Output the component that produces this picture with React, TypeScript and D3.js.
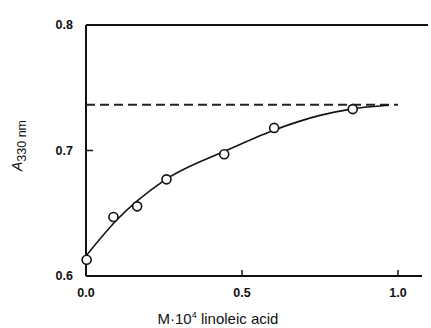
import React from 'react';
import * as d3 from 'd3';

// measured points
const concX = [0.002, 0.088, 0.164, 0.258, 0.443, 0.603, 0.855];
const absY = [0.613, 0.647, 0.6555, 0.677, 0.697, 0.718, 0.733];

// fitted curve drawn through the data
const curveX = [0.0, 0.1, 0.25, 0.45, 0.6, 0.75, 0.85, 0.97];
const curveY = [0.616, 0.645, 0.676, 0.700, 0.716, 0.728, 0.733, 0.736];

// plateau (dashed)
const plateauY = 0.7365;
const plateauX = [0.0, 1.0];

const xTicks = [0.0, 0.5, 1.0];
const yTicks = [0.6, 0.7, 0.8];

export default function App() {
  const width = 431;
  const height = 328;
  const margin = { top: 25, right: 3, bottom: 52, left: 86 };

  const x = d3.scaleLinear().domain([0, 1]).range([margin.left, margin.left + 312]);
  const y = d3.scaleLinear().domain([0.6, 0.8]).range([height - margin.bottom, margin.top]);

  const xEnd = width - margin.right;
  const fitLine = d3
    .line<number>()
    .x((_, i) => x(curveX[i]))
    .y(d => y(d))
    .curve(d3.curveMonotoneX);

  const font = "'Liberation Sans', Arial, sans-serif";

  return (
    <svg
      width={width}
      height={height}
      style={{ position: 'absolute', left: 0, top: 0, background: '#fff' }}
    >
      {/* frame: left, top, bottom */}
      <g stroke="#111" strokeWidth={2} fill="none">
        <line x1={x(0)} x2={x(0)} y1={y(0.8)} y2={y(0.6)} />
        <line x1={x(0)} x2={xEnd} y1={y(0.8)} y2={y(0.8)} />
        <line x1={x(0)} x2={xEnd - 6} y1={y(0.6)} y2={y(0.6)} />
      </g>

      {/* inward ticks */}
      <g stroke="#111" strokeWidth={1.5}>
        {yTicks.slice(1, -1).map(t => (
          <line key={t} x1={x(0)} x2={x(0) + 7} y1={y(t)} y2={y(t)} />
        ))}
        {xTicks.slice(1).map(t => (
          <line key={t} x1={x(t)} x2={x(t)} y1={y(0.6)} y2={y(0.6) - 6} />
        ))}
      </g>

      {/* tick labels */}
      <g fontFamily={font} fontWeight="bold" fontSize={12.5} fill="#111">
        {yTicks.map(t => (
          <text key={t} x={x(0) - 13} y={y(t)} dy="0.35em" textAnchor="end">
            {t.toFixed(1)}
          </text>
        ))}
        {xTicks.map(t => (
          <text key={t} x={x(t)} y={y(0.6) + 21} textAnchor="middle">
            {t.toFixed(1)}
          </text>
        ))}
      </g>

      {/* axis titles */}
      <text
        transform={`translate(22, ${y(0.7) - 5}) rotate(-90)`}
        textAnchor="middle"
        fontFamily={font}
        fontSize={14}
        fill="#111"
      >
        <tspan fontStyle="italic">A</tspan>
        <tspan dy={4} fontSize={12.5}>330 nm</tspan>
      </text>
      <text
        x={218}
        y={height - 4}
        textAnchor="middle"
        fontFamily={font}
        fontSize={15}
        fill="#111"
      >
        M·10<tspan dy={-6} fontSize={9}>4</tspan>
        <tspan dy={6}> linoleic acid</tspan>
      </text>

      {/* plateau */}
      <line
        x1={x(plateauX[0])}
        x2={x(plateauX[1])}
        y1={y(plateauY)}
        y2={y(plateauY)}
        stroke="#222"
        strokeWidth={2}
        strokeDasharray="9 5"
      />

      {/* fitted curve */}
      <path d={fitLine(curveY) ?? ''} fill="none" stroke="#111" strokeWidth={1.6} />

      {/* data points */}
      {concX.map((c, i) => (
        <circle
          key={i}
          cx={x(c)}
          cy={y(absY[i])}
          r={4.5}
          fill="#fff"
          stroke="#111"
          strokeWidth={1.6}
        />
      ))}
    </svg>
  );
}
